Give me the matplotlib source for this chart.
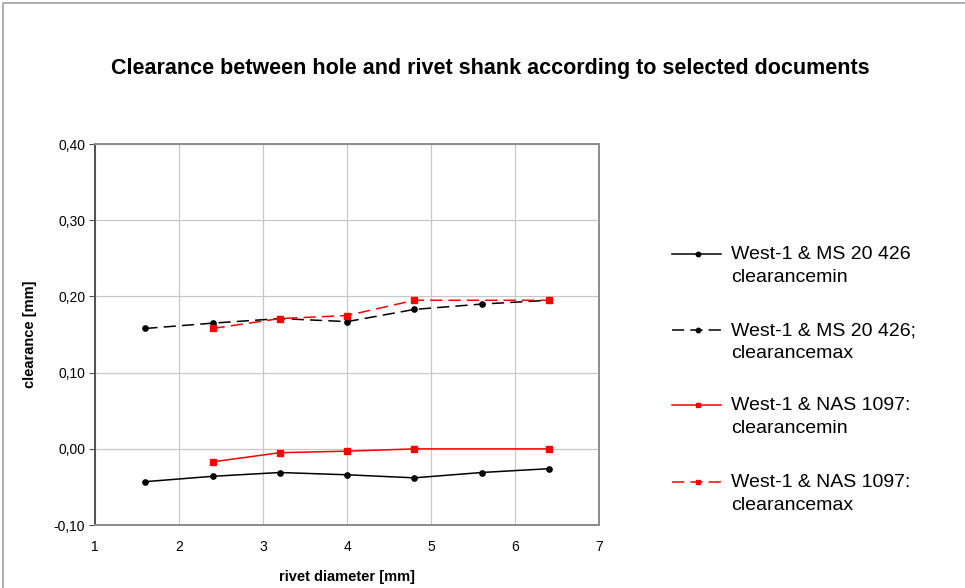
import matplotlib.pyplot as plt
from matplotlib.lines import Line2D
from matplotlib.patches import Rectangle
from matplotlib.ticker import FuncFormatter

plt.rcParams['font.family'] = ['Liberation Sans', 'DejaVu Sans']

# rivet diameters [mm]
d_ms = [1.6, 2.4, 3.2, 4.0, 4.8, 5.6, 6.4]
d_nas = [2.4, 3.2, 4.0, 4.8, 6.4]

# clearance [mm]
ms_min = [-0.043, -0.036, -0.031, -0.034, -0.038, -0.031, -0.026]
ms_max = [0.158, 0.165, 0.171, 0.167, 0.183, 0.190, 0.195]
nas_min = [-0.017, -0.005, -0.003, 0.000, 0.000]
nas_max = [0.158, 0.171, 0.175, 0.195, 0.195]

labels = ["West-1 & MS 20 426\nclearancemin",
          "West-1 & MS 20 426;\nclearancemax",
          "West-1 & NAS 1097:\nclearancemin",
          "West-1 & NAS 1097:\nclearancemax"]

fig = plt.figure(figsize=(9.65, 5.88), dpi=100)
fig.patches.append(Rectangle((0.003, -0.01), 1.1, 1.005, transform=fig.transFigure,
                             fill=False, edgecolor='#a0a0a0', lw=1.2))
ax = fig.add_axes([0.0984, 0.107, 0.5226, 0.648])

dash = (0, (8, 4))
styles = [
    dict(color='black', ls='-', marker='o', ms=3.8),
    dict(color='black', ls=dash, marker='o', ms=3.8),
    dict(color='#ff0000', ls='-', marker='s', ms=3.8),
    dict(color='#ff0000', ls=dash, marker='s', ms=3.8),
]
series = [(d_ms, ms_min), (d_ms, ms_max), (d_nas, nas_min), (d_nas, nas_max)]
for (x, y), st in zip(series, styles):
    ax.plot(x, y, lw=1.1, zorder=3, **st)

ax.set_xlim(1, 7)
ax.set_ylim(-0.10, 0.40)
ax.set_xticks(range(1, 8))
ax.set_yticks([-0.10, 0.0, 0.10, 0.20, 0.30, 0.40])
ax.yaxis.set_major_formatter(FuncFormatter(lambda v, p: f"{v:.2f}".replace('.', ',')))
ax.grid(True, color='#c8c8c8', lw=0.9)
ax.set_axisbelow(True)
for s in ax.spines.values():
    s.set_color('#8c8c8c')
    s.set_linewidth(1.4)
ax.spines['left'].set_color('#505050')
ax.tick_params(axis='y', direction='out', length=4, color='#505050', labelsize=10, pad=3)
ax.tick_params(axis='x', length=0, labelsize=10, pad=11)

ax.set_xlabel("rivet diameter [mm]", fontsize=10.5, fontweight='bold', labelpad=11)
ax.set_ylabel("clearance [mm]", fontsize=10.5, fontweight='bold', labelpad=12)

fig.text(0.508, 0.884, "Clearance between hole and rivet shank according to selected documents",
         ha='center', va='center', fontsize=15.5, fontweight='bold')

# legend on the right, handle aligned with the first text line
rows = [254, 330, 405, 482]
for yp, lab, st in zip(rows, labels, styles):
    yf = 1 - yp / 588
    fig.add_artist(Line2D([672 / 965, 721 / 965], [yf, yf], transform=fig.transFigure,
                          color=st['color'], ls=st['ls'], lw=1.1))
    fig.add_artist(Line2D([698 / 965], [yf], transform=fig.transFigure,
                          color=st['color'], marker=st['marker'], ms=3.2, ls='none'))
    fig.text(731 / 965, yf + 0.013, lab, ha='left', va='top', fontsize=14,
             linespacing=1.4)

fig.savefig("out.png", dpi=100)
